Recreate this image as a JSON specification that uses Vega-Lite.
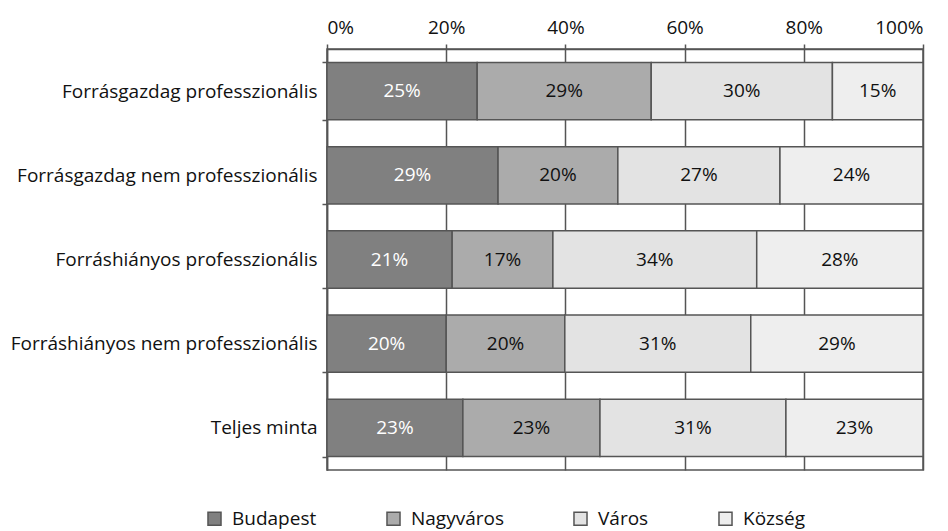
{
  "$schema": "https://vega.github.io/schema/vega-lite/v6.json",
  "autosize": {"type": "none"},
  "width": 596,
  "height": 421,
  "padding": {"left": 327, "top": 49, "right": 25, "bottom": 61},
  "background": "white",
  "config": {
    "font": "Open Sans",
    "view": {"stroke": "#555555", "strokeWidth": 1.5}
  },
  "data": {
    "values": [
      {"group": "Forrásgazdag professzionális", "type": "Budapest", "value": 25.2, "label": "25%"},
      {"group": "Forrásgazdag professzionális", "type": "Nagyváros", "value": 29.2, "label": "29%"},
      {"group": "Forrásgazdag professzionális", "type": "Város", "value": 30.4, "label": "30%"},
      {"group": "Forrásgazdag professzionális", "type": "Község", "value": 15.2, "label": "15%"},
      {"group": "Forrásgazdag nem professzionális", "type": "Budapest", "value": 28.7, "label": "29%"},
      {"group": "Forrásgazdag nem professzionális", "type": "Nagyváros", "value": 20.1, "label": "20%"},
      {"group": "Forrásgazdag nem professzionális", "type": "Város", "value": 27.2, "label": "27%"},
      {"group": "Forrásgazdag nem professzionális", "type": "Község", "value": 24.0, "label": "24%"},
      {"group": "Forráshiányos professzionális", "type": "Budapest", "value": 21.0, "label": "21%"},
      {"group": "Forráshiányos professzionális", "type": "Nagyváros", "value": 16.9, "label": "17%"},
      {"group": "Forráshiányos professzionális", "type": "Város", "value": 34.2, "label": "34%"},
      {"group": "Forráshiányos professzionális", "type": "Község", "value": 27.9, "label": "28%"},
      {"group": "Forráshiányos nem professzionális", "type": "Budapest", "value": 20.0, "label": "20%"},
      {"group": "Forráshiányos nem professzionális", "type": "Nagyváros", "value": 19.9, "label": "20%"},
      {"group": "Forráshiányos nem professzionális", "type": "Város", "value": 31.2, "label": "31%"},
      {"group": "Forráshiányos nem professzionális", "type": "Község", "value": 28.9, "label": "29%"},
      {"group": "Teljes minta", "type": "Budapest", "value": 22.8, "label": "23%"},
      {"group": "Teljes minta", "type": "Nagyváros", "value": 23.0, "label": "23%"},
      {"group": "Teljes minta", "type": "Város", "value": 31.2, "label": "31%"},
      {"group": "Teljes minta", "type": "Község", "value": 23.0, "label": "23%"}
    ]
  },
  "transform": [
    {"calculate": "indexof(['Budapest','Nagyváros','Város','Község'], datum.type)", "as": "ord"},
    {"stack": "value", "groupby": ["group"], "sort": [{"field": "ord", "order": "ascending"}], "as": ["x0", "x1"]},
    {"calculate": "(datum.x0 + datum.x1) / 2", "as": "xm"}
  ],
  "encoding": {
    "y": {
      "field": "group",
      "type": "nominal",
      "sort": null,
      "title": null,
      "scale": {"paddingInner": 0.32, "paddingOuter": 0.16},
      "axis": {
        "orient": "left",
        "tickBand": "extent",
        "ticks": true,
        "tickSize": 5,
        "tickColor": "#555555",
        "tickWidth": 1.5,
        "domainColor": "#555555",
        "domainWidth": 1.5,
        "labelPadding": 5,
        "labelLimit": 400,
        "labelFont": "Open Sans",
        "labelFontSize": 19,
        "labelColor": "#111111",
        "grid": false
      }
    }
  },
  "layer": [
    {
      "mark": {"type": "bar", "stroke": "#555555", "strokeWidth": 1.5, "opacity": 1},
      "encoding": {
        "x": {
          "field": "x0",
          "type": "quantitative",
          "scale": {"domain": [0, 100], "nice": false},
          "title": null,
          "axis": {
            "orient": "top",
            "values": [0, 20, 40, 60, 80, 100],
            "labelExpr": "datum.value + '%'",
            "grid": true,
            "gridColor": "#555555",
            "gridWidth": 1.5,
            "tickColor": "#555555",
            "tickWidth": 1.5,
            "tickSize": 5,
            "domainColor": "#555555",
            "domainWidth": 1.5,
            "labelPadding": 7,
            "labelFont": "Open Sans",
            "labelFontSize": 19,
            "labelColor": "#111111"
          }
        },
        "x2": {"field": "x1"},
        "color": {
          "field": "type",
          "type": "nominal",
          "sort": ["Budapest", "Nagyváros", "Város", "Község"],
          "scale": {
            "domain": ["Budapest", "Nagyváros", "Város", "Község"],
            "range": ["#808080", "#ababab", "#e3e3e3", "#eeeeee"]
          },
          "legend": {
            "title": null,
            "orient": "none",
            "direction": "horizontal",
            "legendX": -122,
            "legendY": 460,
            "symbolType": "square",
            "symbolSize": 170,
            "symbolStrokeColor": "#555555",
            "symbolStrokeWidth": 1.5,
            "symbolOpacity": 1,
            "labelOffset": 8,
            "columnPadding": 66,
            "labelFont": "Open Sans",
            "labelFontSize": 19,
            "labelColor": "#111111"
          }
        }
      }
    },
    {
      "mark": {"type": "text", "fontSize": 19, "font": "Open Sans"},
      "encoding": {
        "x": {"field": "xm", "type": "quantitative"},
        "text": {"field": "label"},
        "color": {"condition": {"test": "datum.type === 'Budapest'", "value": "#ffffff"}, "value": "#111111"}
      }
    }
  ]
}
